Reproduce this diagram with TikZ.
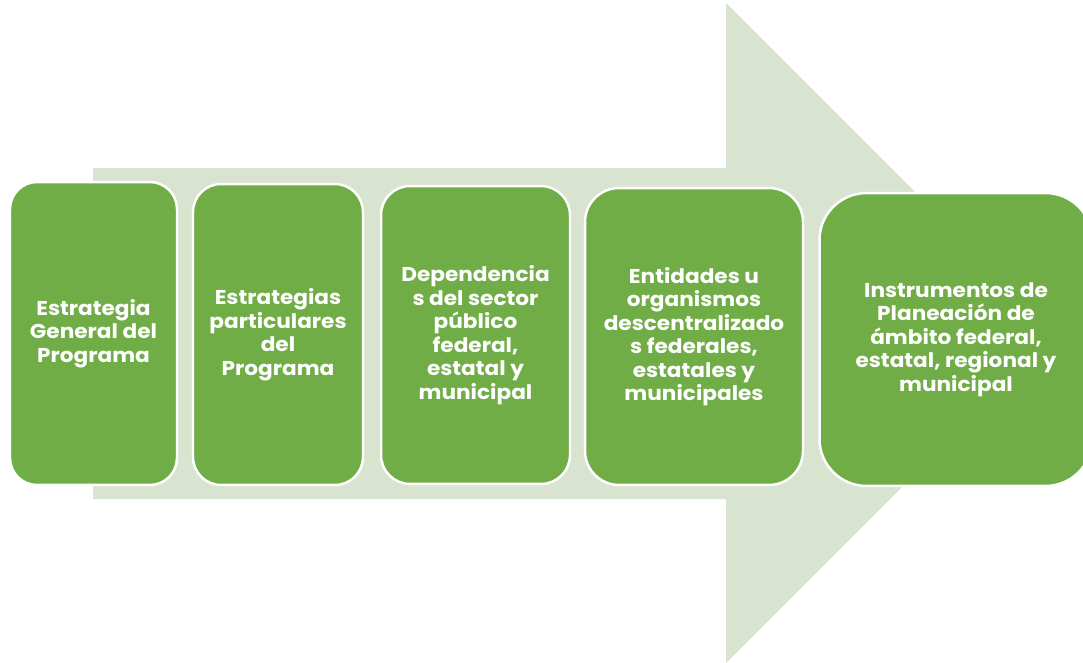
\documentclass[tikz,border=0pt]{standalone}
\usepackage{fontspec}
\setmainfont{Poppins}[FakeStretch=1.08]
\usetikzlibrary{positioning}
\definecolor{pgGreen}{RGB}{112,173,71}
\definecolor{pgPale}{RGB}{217,228,208}
\tikzset{
  pgArrow/.style={fill=pgPale, draw=none},
  pgStage/.style={draw=white, line width=1.4pt, fill=pgGreen, align=center,
                  text=white, font=\fontsize{11.4}{13.4}\selectfont\bfseries,
                  inner sep=0pt}
}

\begin{document}
\begin{tikzpicture}[x=0.02cm,y=-0.02cm]
  \useasboundingbox (0,0) rectangle (1083,663);
  \fill[pgArrow] (93,168) -- (726,168) -- (726,3) -- (1056,333)
                 -- (726,663) -- (726,499) -- (93,499) -- cycle;
  \node[pgStage, rounded corners=0.54cm] (s1) at (93.5,333.5)
       [minimum width=3.34cm, minimum height=6.06cm] {Estrategia\\General del\\Programa};
  \node[pgStage, rounded corners=0.56cm] (s2) at (278,334.5)
       [minimum width=3.40cm, minimum height=6.02cm] {Estrategias\\particulares\\del\\Programa};
  \node[pgStage, rounded corners=0.58cm] (s3) at (475.5,335)
       [minimum width=3.78cm, minimum height=5.96cm] {Dependencia\\s del sector\\público\\federal,\\estatal y\\municipal};
  \node[pgStage, rounded corners=0.68cm] (s4) at (694,336.5)
       [minimum width=4.36cm, minimum height=5.94cm] {Entidades u\\organismos\\descentralizado\\s federales,\\estatales y\\municipales};
  \node[pgStage, rounded corners=0.94cm] (s5) at (956,339.5)
       [minimum width=5.46cm, minimum height=5.86cm] {Instrumentos de\\Planeación de\\ámbito federal,\\estatal, regional y\\municipal};
\end{tikzpicture}
\end{document}
